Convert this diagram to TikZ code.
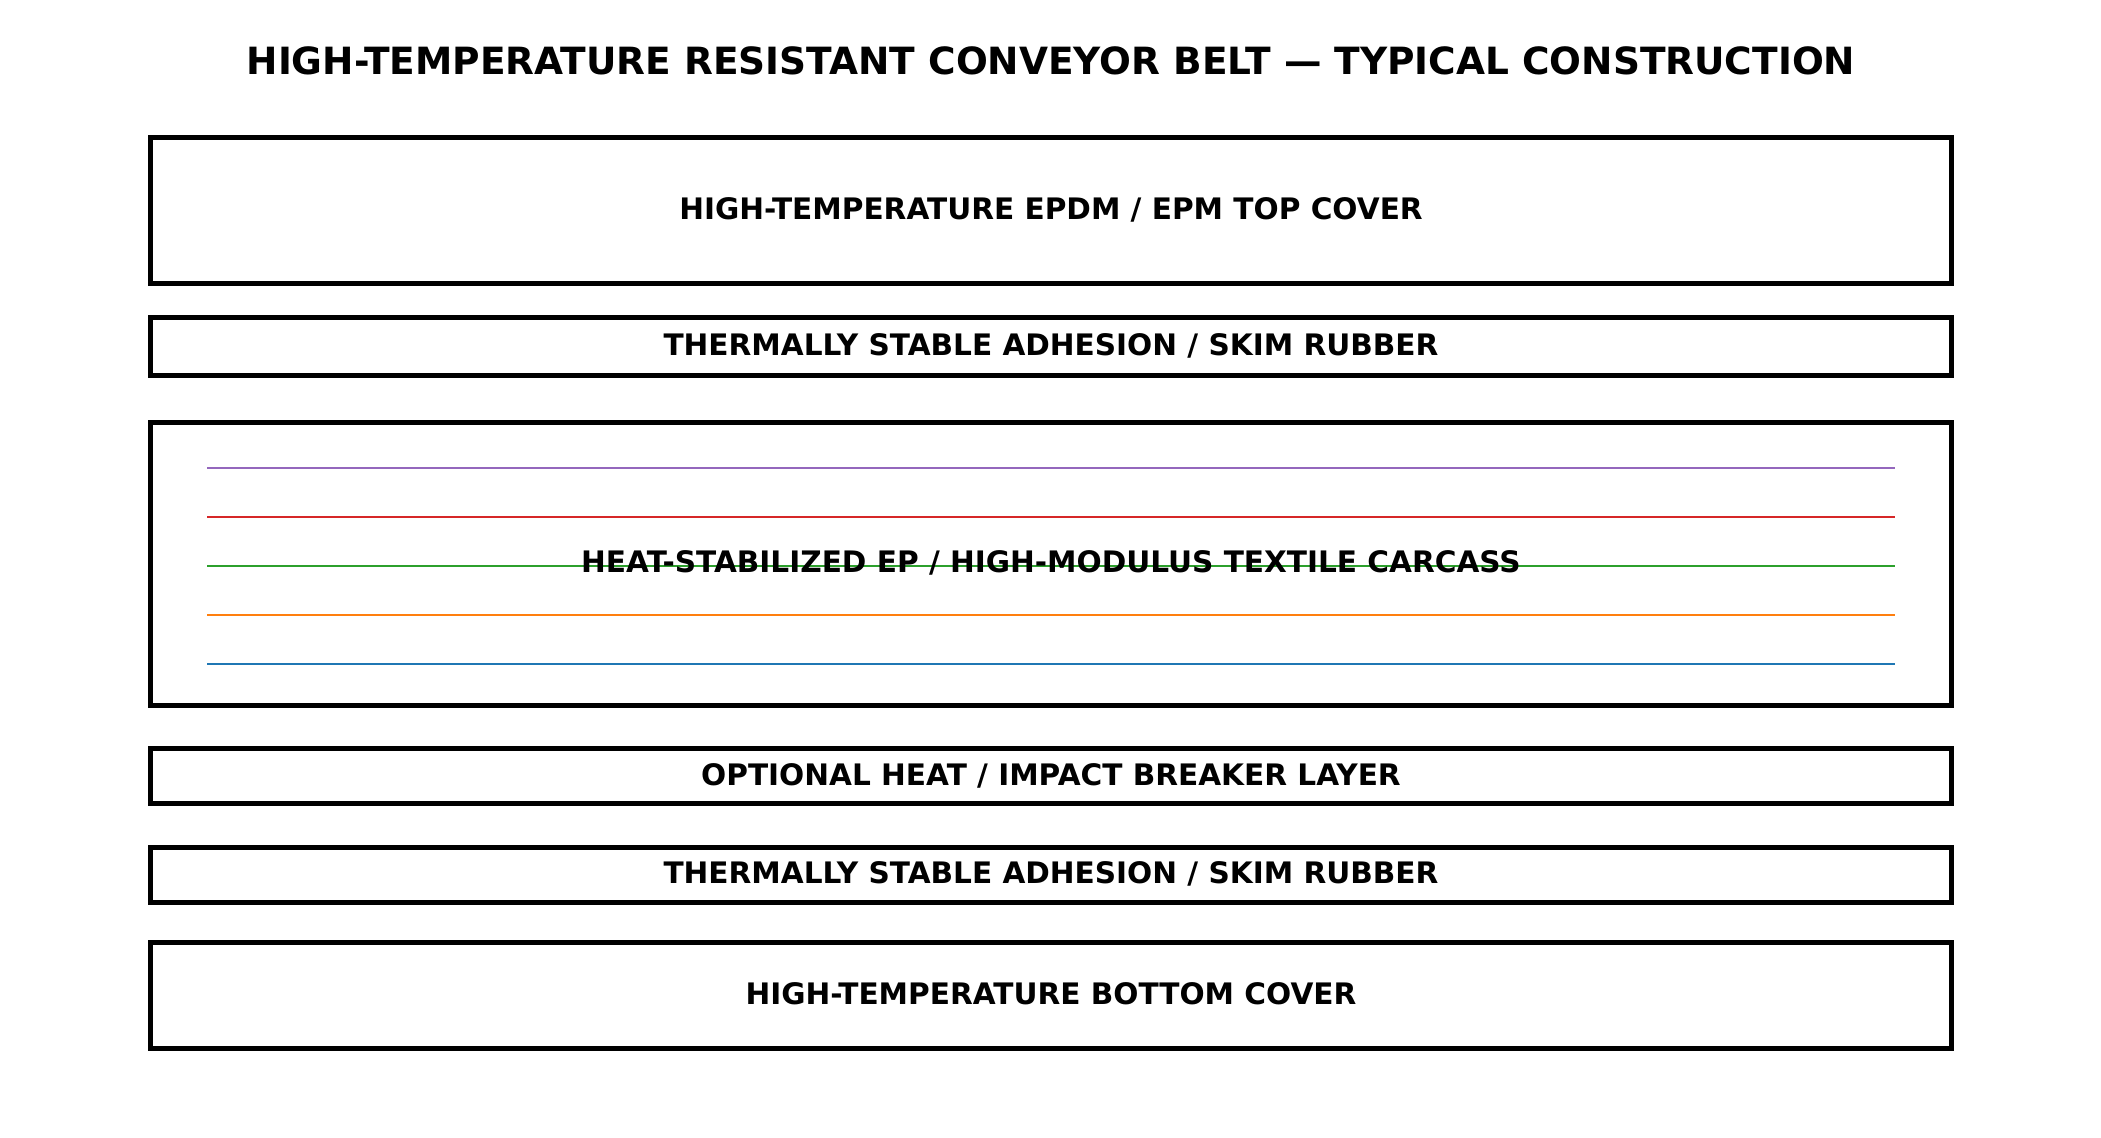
\documentclass[tikz,border=0pt]{standalone}
\usepackage{fontspec}
\setmainfont{DejaVu Sans}
\definecolor{plypurple}{HTML}{9467BD}
\definecolor{plyred}{HTML}{D62728}
\definecolor{plygreen}{HTML}{2CA02C}
\definecolor{plyorange}{HTML}{FF7F0E}
\definecolor{plyblue}{HTML}{1F77B4}
\tikzset{
  layer/.style={draw, line width=2.4pt, minimum width=864pt, inner sep=0pt,
    text height=10.5pt, text depth=1.8pt,
    font=\fontsize{14.2}{17}\selectfont\bfseries},
  lbl/.style={inner sep=0pt, text height=10.5pt, text depth=1.8pt,
    font=\fontsize{14.2}{17}\selectfont\bfseries},
  ply/.style={line width=1pt}
}
\begin{document}
\begin{tikzpicture}[x=0.48pt, y=-0.48pt]

% 画面范围
\useasboundingbox (0,0) rectangle (2101,1138);

% 标题
\node[font=\fontsize{18}{22}\selectfont\bfseries] (title) at (1051,60.5)
  {HIGH-TEMPERATURE RESISTANT CONVEYOR BELT — TYPICAL CONSTRUCTION};

% 各层
\node[layer, minimum height=70pt] (topcover) at (1051,210.7)
  {HIGH-TEMPERATURE EPDM / EPM TOP COVER};
\node[layer, minimum height=28.3pt] (skimtop) at (1051,346.5)
  {THERMALLY STABLE ADHESION / SKIM RUBBER};
\node[layer, minimum height=136.3pt] (carcass) at (1051,564) {};
\node[layer, minimum height=26.7pt] (breaker) at (1051,776)
  {OPTIONAL HEAT / IMPACT BREAKER LAYER};
\node[layer, minimum height=26.4pt] (skimbot) at (1051,874.5)
  {THERMALLY STABLE ADHESION / SKIM RUBBER};
\node[layer, minimum height=51.2pt] (botcover) at (1051,995.4)
  {HIGH-TEMPERATURE BOTTOM COVER};

% 织物层线
\foreach \y/\c in {467.7/plypurple, 516.7/plyred, 565.7/plygreen, 615/plyorange, 664/plyblue}{
  \draw[ply, \c] (207,\y) -- (1895,\y);
}

% 骨架层文字
\node[lbl] (carcasslbl) at (1051,563)
  {HEAT-STABILIZED EP / HIGH-MODULUS TEXTILE CARCASS};

\end{tikzpicture}
\end{document}
